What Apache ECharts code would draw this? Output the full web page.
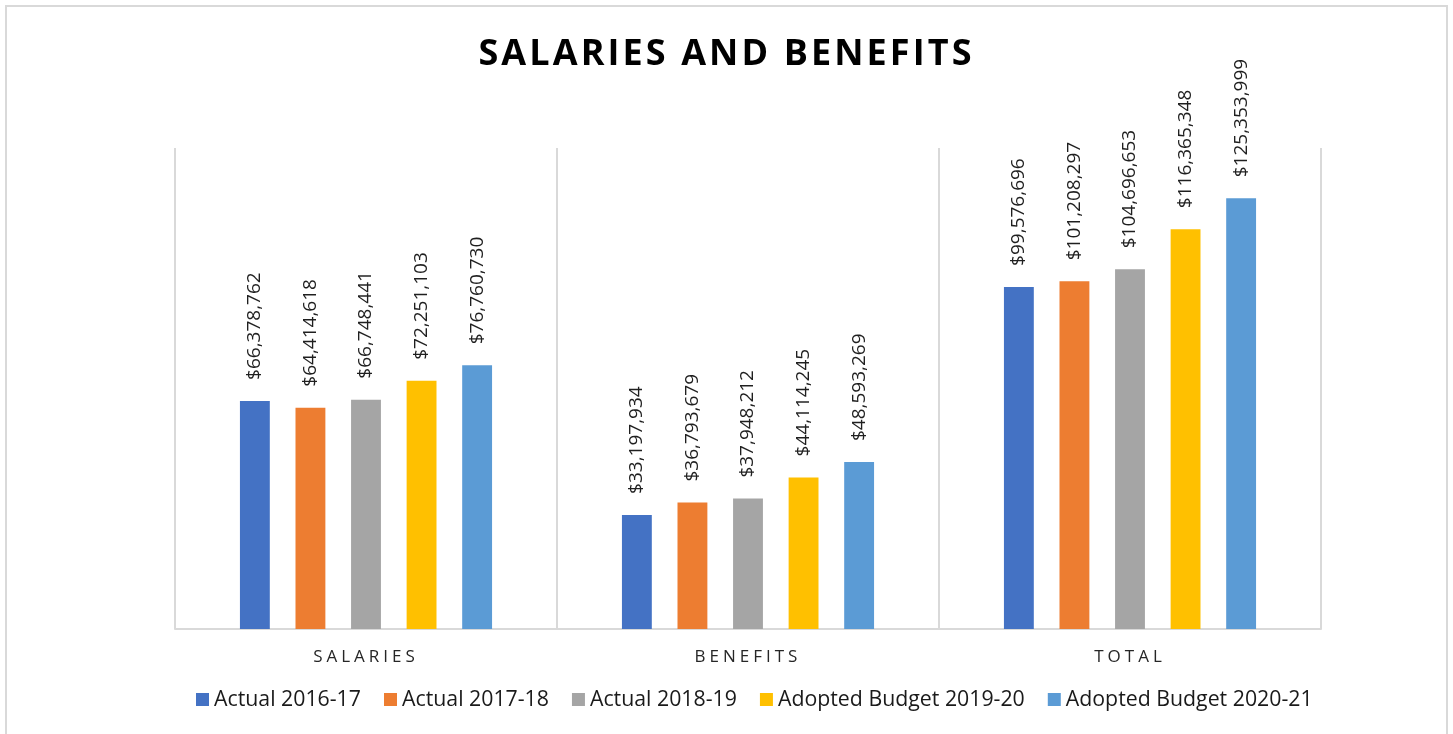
<!DOCTYPE html>
<html>
<head>
<meta charset="utf-8">
<script src="https://cdn.jsdelivr.net/npm/echarts@6/dist/echarts.min.js"></script>
<style>
html,body{margin:0;padding:0;background:#fff;}
#chart{width:1453px;height:734px;}
</style>
</head>
<body>
<div id="chart"></div>
<script>
// Letter-spacing support for specific text (canvas letterSpacing keyed by a marker family name)
(function(){
  var P = CanvasRenderingContext2D.prototype;
  var d = Object.getOwnPropertyDescriptor(P, 'font');
  Object.defineProperty(P, 'font', {
    configurable: true,
    get: function(){ return d.get.call(this); },
    set: function(v){
      d.set.call(this, v);
      var ls = '0px';
      if (/SpacedTitle/.test(v)) ls = '3.1px';
      else if (/SpacedAxis/.test(v)) ls = '4px';
      try { this.letterSpacing = ls; } catch(e){}
    }
  });
})();

var categories = ['SALARIES', 'BENEFITS', 'TOTAL'];
var seriesNames = ['Actual 2016-17', 'Actual 2017-18', 'Actual 2018-19', 'Adopted Budget 2019-20', 'Adopted Budget 2020-21'];
var actual201617 = [66378762, 33197934, 99576696];
var actual201718 = [64414618, 36793679, 101208297];
var actual201819 = [66748441, 37948212, 104696653];
var adopted201920 = [72251103, 44114245, 116365348];
var adopted202021 = [76760730, 48593269, 125353999];
var colors = ['#4472C4', '#ED7D31', '#A5A5A5', '#FFC000', '#5B9BD5'];

var seriesData = [actual201617, actual201718, actual201819, adopted201920, adopted202021];

var chart = echarts.init(document.getElementById('chart'), null, {renderer: 'canvas'});

var series = seriesData.map(function(arr, i){
  return {
    name: seriesNames[i],
    type: 'bar',
    data: arr,
    barCategoryGap: '34%',
    barGap: '86%',
    itemStyle: {color: colors[i]},
    label: {
      show: true,
      position: 'top',
      rotate: 90,
      align: 'left',
      verticalAlign: 'middle',
      distance: 21,
      color: '#1f1f1f',
      fontSize: 19,
      fontFamily: '"Open Sans", sans-serif',
      formatter: function(p){ return '$' + p.value.toLocaleString('en-US'); }
    }
  };
});

chart.setOption({
  animation: false,
  backgroundColor: '#ffffff',
  color: colors,
  title: {
    text: 'SALARIES AND BENEFITS',
    left: 'center',
    top: 35,
    padding: 0,
    textStyle: {
      fontSize: 36,
      fontWeight: 'bold',
      color: '#000000',
      fontFamily: '"Open Sans", "SpacedTitle", sans-serif'
    }
  },
  legend: {
    data: seriesNames,
    left: 196,
    top: 689,
    padding: 0,
    itemWidth: 13,
    itemHeight: 13,
    itemGap: 23,
    icon: 'rect',
    textStyle: {
      fontSize: 21.3,
      color: '#1a1a1a',
      fontFamily: '"Open Sans", sans-serif'
    }
  },
  grid: {
    left: 175,
    right: 132,
    top: 148,
    bottom: 105,
    containLabel: false
  },
  xAxis: {
    type: 'category',
    data: categories,
    axisLine: {show: true, lineStyle: {color: '#d9d9d9', width: 2}},
    axisTick: {show: false},
    splitLine: {show: true, lineStyle: {color: '#d9d9d9', width: 2}},
    axisLabel: {
      margin: 18,
      fontSize: 17,
      color: '#262626',
      fontFamily: '"Open Sans", "SpacedAxis", sans-serif'
    }
  },
  yAxis: {
    type: 'value',
    min: 0,
    max: 140000000,
    show: false,
    splitLine: {show: false}
  },
  graphic: [{
    type: 'rect',
    silent: true,
    shape: {x: 6, y: 6, width: 1441, height: 760},
    style: {fill: null, stroke: '#d9d9d9', lineWidth: 2}
  }],
  series: series
});
</script>
</body>
</html>
